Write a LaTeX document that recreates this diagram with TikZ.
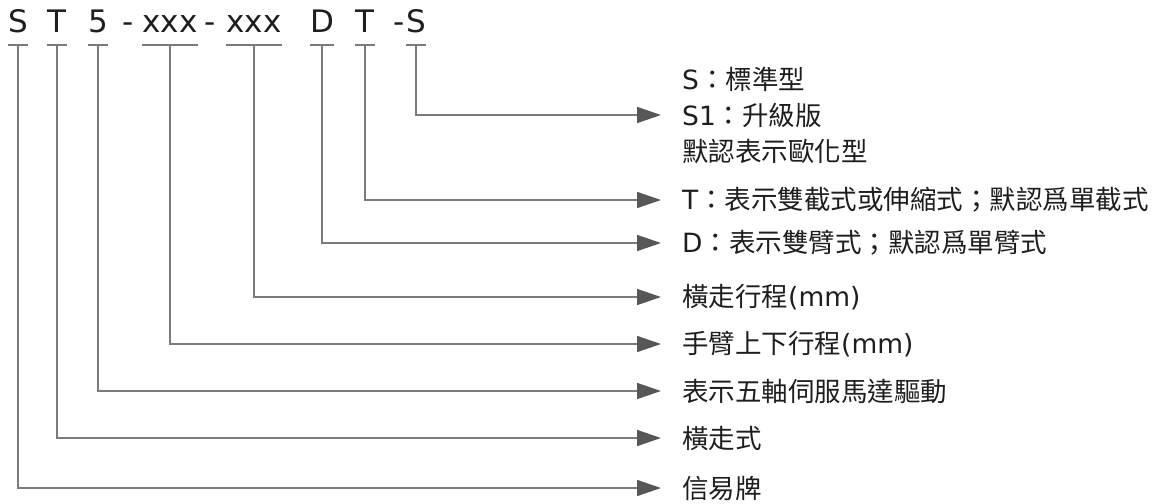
\documentclass[tikz,border=0pt]{standalone}
\usepackage{fontspec}
\setmainfont{DejaVu Sans}
\newfontfamily\cjk{Noto Sans CJK TC}
\usetikzlibrary{arrows.meta}
\definecolor{linegray}{HTML}{7B7B7B}
\definecolor{tipgray}{HTML}{575757}
\definecolor{txt}{HTML}{1E1E1E}
\tikzset{>={Triangle[length=24pt,width=16pt,color=tipgray]}}
\tikzset{code/.style={inner sep=0pt,anchor=base,font=\fontsize{31}{36}\selectfont,text=txt},
  desc/.style={inner sep=0pt,anchor=west,align=left,font=\fontsize{26.5}{36}\selectfont,text=txt},
  lead/.style={draw=linegray,line width=1.5pt,->,shorten >=21pt},
  brack/.style={draw=linegray,line width=1.5pt}}

\begin{document}
\begin{tikzpicture}[x=1pt,y=-1pt]
\useasboundingbox (0,0) rectangle (1155,503);
\coordinate (brk) at (0,45);

\node[code] (cS) at (18,33) {S};
\node[code] (cT) at (57,33) {T};
\node[code] (c5) at (98,33) {5};
\node[code] (m1) at (128,33) {-};
\node[code] (cXa) at (170,33) {xxx};
\node[code] (m2) at (210,33) {-};
\node[code] (cXb) at (254,33) {xxx};
\node[code] (cD) at (322,33) {D};
\node[code] (cT2) at (365,33) {T};
\node[code] (m3) at (399,33) {-};
\node[code] (cS2) at (416,33) {S};

\node[desc] (dS2) at (682,115) {S{\cjk：標準型}\\S1{\cjk：升級版}\\{\cjk 默認表示歐化型}};
\node[desc] (dT2) at (682,200) {T{\cjk：表示雙截式或伸縮式；默認爲單截式}};
\node[desc] (dD) at (682,243) {D{\cjk：表示雙臂式；默認爲單臂式}};
\node[desc] (dXb) at (682,297) {{\cjk 橫走行程}(mm)};
\node[desc] (dXa) at (682,344) {{\cjk 手臂上下行程}(mm)};
\node[desc] (d5) at (682,391) {\cjk 表示五軸伺服馬達驅動};
\node[desc] (dT) at (682,438) {\cjk 橫走式};
\node[desc] (dS) at (682,488) {\cjk 信易牌};

\foreach \n in {cS,cT,c5,cXa,cXb,cD,cT2,cS2}
  \draw[brack] (\n.west |- brk) -- (\n.east |- brk);

\draw[lead] (cS2.south |- brk) |- (dS2.west);
\draw[lead] (cT2.south |- brk) |- (dT2.west);
\draw[lead] (cD.south |- brk) |- (dD.west);
\draw[lead] (cXb.south |- brk) |- (dXb.west);
\draw[lead] (cXa.south |- brk) |- (dXa.west);
\draw[lead] (c5.south |- brk) |- (d5.west);
\draw[lead] (cT.south |- brk) |- (dT.west);
\draw[lead] (cS.south |- brk) |- (dS.west);
\end{tikzpicture}
\end{document}
